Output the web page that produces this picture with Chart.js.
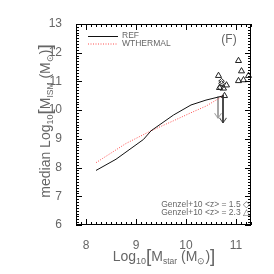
<!DOCTYPE html>
<html>
<head>
<meta charset="utf-8">
<script src="https://cdn.jsdelivr.net/npm/chart.js@4.4.0/dist/chart.umd.min.js"></script>
<style>
  html, body { margin: 0; padding: 0; background: #fff; }
  #wrap { width: 274px; height: 274px; }
</style>
</head>
<body>
<div id="wrap"><canvas id="chart" width="274" height="274"></canvas></div>
<script>
// model medians
const refX = [8.2, 8.6, 9.15, 9.3, 9.75, 10.1, 10.4, 10.75];
const refY = [7.9, 8.29, 8.98, 9.28, 9.83, 10.18, 10.35, 10.5];
const thermX = [8.2, 8.8, 9.3, 9.75, 10.1, 10.4, 10.65, 10.75];
const thermY = [8.17, 8.84, 9.28, 9.63, 9.91, 10.14, 10.4, 10.53];

// observations, Genzel+10
const z15X = [10.71, 10.71, 10.69];
const z15Y = [11.01, 10.93, 10.79];
const z23X = [10.65, 10.67, 10.75, 10.81, 10.77, 11.05, 11.11, 11.05, 11.15, 11.25];
const z23Y = [11.2, 10.78, 10.76, 10.87, 10.5, 11.72, 11.36, 11.02, 11.05, 11.2];

// upper limits (arrows)
const limX = [10.64, 10.74];
const limTop = [10.47, 10.53];
const limBot = [9.72, 9.56];

const xTicks = [8, 9, 10, 11];
const yTicks = [6, 7, 8, 9, 10, 11, 12, 13];

const pts = (xs, ys) => xs.map((x, i) => ({ x: x, y: ys[i] }));

function arrowHead(color) {
  const c = document.createElement('canvas');
  c.width = 8; c.height = 16;
  const g = c.getContext('2d');
  g.strokeStyle = color; g.lineWidth = 1;
  g.beginPath(); g.moveTo(0.5, 3); g.lineTo(4, 8); g.lineTo(7.5, 3); g.stroke();
  return c;
}

const limColors = ['#999', '#333'];
const arrows = limX.map((x, i) => ({
  type: 'scatter', showLine: true,
  data: [{ x: x, y: limTop[i] }, { x: x, y: limBot[i] }],
  borderColor: limColors[i], borderWidth: 1,
  pointRadius: [0, 4], pointStyle: arrowHead(limColors[i]),
}));

const font = '"Liberation Sans", Arial, sans-serif';
const textCol = '#666';

// draw rich text pieces [text, size, dy] centred at (0,0) of current transform
function richText(ctx, parts) {
  let w = 0;
  parts.forEach(p => { ctx.font = p[1] + 'px ' + font; w += ctx.measureText(p[0]).width; });
  let x = -w / 2;
  parts.forEach(p => {
    ctx.font = p[1] + 'px ' + font;
    ctx.fillText(p[0], x, p[2] || 0);
    x += ctx.measureText(p[0]).width;
  });
}

const decor = {
  id: 'decor',
  afterDraw(chart) {
    const ctx = chart.ctx, a = chart.chartArea;
    const xs = chart.scales.x, ys = chart.scales.y;
    ctx.save();
    ctx.strokeStyle = '#000'; ctx.lineWidth = 1;
    ctx.strokeRect(Math.round(a.left) + 0.5, Math.round(a.top) + 0.5,
      Math.round(a.right - a.left) - 1, Math.round(a.bottom - a.top) - 1);
    ctx.beginPath();
    for (let i = Math.ceil(xs.min * 10); i <= Math.floor(xs.max * 10); i++) {
      const px = Math.round(xs.getPixelForValue(i / 10)) + 0.5;
      const len = i % 10 === 0 ? 6 : 3;
      ctx.moveTo(px, a.bottom); ctx.lineTo(px, a.bottom - len);
      ctx.moveTo(px, a.top); ctx.lineTo(px, a.top + len);
    }
    for (let i = Math.ceil(ys.min * 10); i <= Math.floor(ys.max * 10); i++) {
      const py = Math.round(ys.getPixelForValue(i / 10)) + 0.5;
      const len = i % 10 === 0 ? 6 : 3;
      ctx.moveTo(a.left, py); ctx.lineTo(a.left + len, py);
      ctx.moveTo(a.right, py); ctx.lineTo(a.right - len, py);
    }
    ctx.stroke();

    // legend
    ctx.textBaseline = 'middle';
    ctx.textAlign = 'left';
    chart.data.datasets.filter(d => d.inLegend).forEach((d, i) => {
      const y = 36 + i * 7.5;
      ctx.strokeStyle = d.borderColor;
      ctx.setLineDash(d.borderDash || []);
      ctx.beginPath(); ctx.moveTo(88, y + 0.5); ctx.lineTo(118, y + 0.5); ctx.stroke();
      ctx.setLineDash([]);
      ctx.fillStyle = textCol;
      ctx.font = '8.5px ' + font;
      ctx.fillText(d.label, 122, y);
    });
    ctx.font = '12px ' + font;
    ctx.textAlign = 'center';
    ctx.fillText('(F)', 229, 40);

    ctx.textAlign = 'right';
    ctx.font = '8.5px ' + font;
    ctx.fillText('Genzel+10 <z> = 1.5 \u25C7', 250, 205);
    ctx.fillText('Genzel+10 <z> = 2.3 \u25B3', 250, 213);

    // axis titles
    ctx.textAlign = 'left';
    ctx.textBaseline = 'alphabetic';
    ctx.save();
    ctx.translate(50, 121);
    ctx.rotate(-Math.PI / 2);
    richText(ctx, [['median Log', 14], ['10', 9, 3], ['[', 19, 1], ['M', 14], ['ISM', 8.5, 3],
      [' (M', 14], ['\u2299', 9, 3], [')', 14], [']', 19, 1]]);
    ctx.restore();
    ctx.save();
    ctx.translate(164, 261);
    richText(ctx, [['Log', 14], ['10', 9, 3], ['[', 19, 1], ['M', 14], ['star', 8.5, 3],
      [' (M', 14], ['\u2299', 9, 3], [')', 14], [']', 19, 1]]);
    ctx.restore();
    ctx.restore();
  }
};

new Chart(document.getElementById('chart'), {
  type: 'scatter',
  data: {
    datasets: [
      {
        label: 'REF', inLegend: true, showLine: true,
        data: pts(refX, refY),
        borderColor: '#111', borderWidth: 1, pointRadius: 0,
      },
      {
        label: 'WTHERMAL', inLegend: true, showLine: true,
        data: pts(thermX, thermY),
        borderColor: '#ff4d4d', borderWidth: 1, borderDash: [1, 1.5], pointRadius: 0,
      },
      ...arrows,
      {
        label: 'z15', data: pts(z15X, z15Y),
        pointStyle: 'rectRot', pointRadius: 2.8, borderColor: '#222', borderWidth: 1,
        backgroundColor: 'rgba(0,0,0,0)',
      },
      {
        label: 'z23', data: pts(z23X, z23Y), clip: 4,
        pointStyle: 'triangle', pointRadius: 3.5, borderColor: '#222', borderWidth: 1,
        backgroundColor: 'rgba(0,0,0,0)',
      },
    ],
  },
  options: {
    responsive: false,
    animation: false,
    devicePixelRatio: 1,
    layout: { padding: { top: 24, right: 23, left: 0, bottom: 0 } },
    plugins: { legend: { display: false }, tooltip: { enabled: false } },
    scales: {
      x: {
        type: 'linear', min: 7.8, max: 11.3,
        afterBuildTicks: s => { s.ticks = xTicks.map(v => ({ value: v })); },
        afterFit: s => { s.height = 49; },
        grid: { display: false }, border: { display: false },
        ticks: { padding: 5, color: textCol, font: { family: font, size: 12 } },
      },
      y: {
        type: 'linear', min: 6, max: 13,
        afterBuildTicks: s => { s.ticks = yTicks.map(v => ({ value: v })); },
        afterFit: s => { s.width = 76; },
        grid: { display: false }, border: { display: false },
        ticks: { padding: 6, color: textCol, font: { family: font, size: 12 } },
      },
    },
  },
  plugins: [decor],
});
</script>
</body>
</html>
